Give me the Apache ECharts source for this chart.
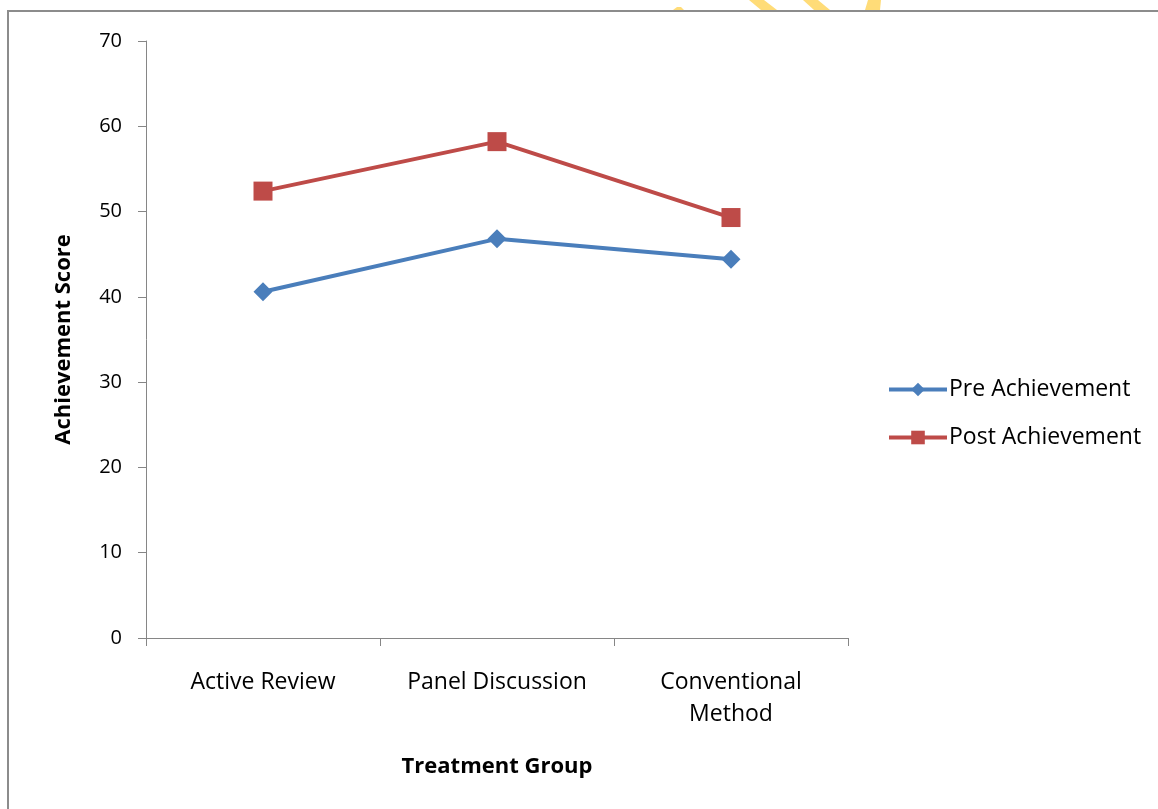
<!DOCTYPE html>
<html>
<head>
<meta charset="utf-8">
<style>
  html, body { margin: 0; padding: 0; background: #ffffff; }
  #chart { width: 1158px; height: 809px; }
</style>
<script src="https://cdn.jsdelivr.net/npm/echarts@6/dist/echarts.min.js"></script>
</head>
<body>
<div id="chart"></div>
<script>
// Mean achievement scores per treatment group
const categories = ['Active Review', 'Panel Discussion', 'Conventional\nMethod'];
const preAchievement = [40.6, 46.8, 44.4];
const postAchievement = [52.4, 58.2, 49.3];
const seriesNames = ['Pre Achievement', 'Post Achievement'];
const yTicks = { min: 0, max: 70, interval: 10 };

const FONT = '"Open Sans", Lato, sans-serif';
const AXIS_GRAY = '#868686';
const BLUE = '#4a7ebb';
const RED = '#be4b48';

const chart = echarts.init(document.getElementById('chart'), null, { renderer: 'canvas' });

chart.setOption({
  backgroundColor: '#ffffff',
  animation: false,
  textStyle: { fontFamily: FONT },
  grid: { left: 146, top: 41, width: 702, height: 597, containLabel: false },
  legend: {
    orient: 'vertical',
    left: 887,
    top: 378,
    padding: 0,
    itemWidth: 58,
    itemHeight: 17,
    itemGap: 25,
    textStyle: { fontFamily: FONT, fontSize: 23, color: '#000', padding: [0, 0, 0, -3] },
    lineStyle: { width: 4 },
    data: seriesNames
  },
  xAxis: {
    type: 'category',
    data: categories,
    boundaryGap: true,
    name: 'Treatment Group',
    nameLocation: 'middle',
    nameGap: 118,
    nameTextStyle: { fontFamily: FONT, fontSize: 22, fontWeight: 'bold', color: '#000' },
    axisLine: { lineStyle: { color: AXIS_GRAY, width: 1 } },
    axisTick: { show: true, length: 8, alignWithLabel: false, lineStyle: { color: AXIS_GRAY } },
    axisLabel: { fontFamily: FONT, fontSize: 23, color: '#000', margin: 28, lineHeight: 32, interval: 0 },
    splitLine: { show: false }
  },
  yAxis: {
    type: 'value',
    min: yTicks.min,
    max: yTicks.max,
    interval: yTicks.interval,
    name: 'Achievement Score',
    nameLocation: 'middle',
    nameGap: 71,
    nameRotate: 90,
    nameTextStyle: { fontFamily: FONT, fontSize: 22, fontWeight: 'bold', color: '#000' },
    axisLine: { show: true, lineStyle: { color: AXIS_GRAY, width: 1 } },
    axisTick: { show: true, length: 8, lineStyle: { color: AXIS_GRAY } },
    axisLabel: { fontFamily: FONT, fontSize: 20, color: '#000', margin: 24 },
    splitLine: { show: false }
  },
  series: [
    {
      name: seriesNames[0],
      type: 'line',
      data: preAchievement,
      symbol: 'diamond',
      symbolSize: 19,
      lineStyle: { color: BLUE, width: 4 },
      itemStyle: { color: BLUE },
      z: 3
    },
    {
      name: seriesNames[1],
      type: 'line',
      data: postAchievement,
      symbol: 'rect',
      symbolSize: 19,
      lineStyle: { color: RED, width: 4 },
      itemStyle: { color: RED },
      z: 3
    }
  ],
  graphic: [
    // yellow strokes peeking above the frame
    { type: 'polygon', silent: true, shape: { points: [[749, 0], [764, 0], [777, 10], [761, 10]] }, style: { fill: '#ffdc78' } },
    { type: 'polygon', silent: true, shape: { points: [[803, 0], [818, 0], [830, 10], [814, 10]] }, style: { fill: '#ffdc78' } },
    { type: 'polygon', silent: true, shape: { points: [[868, 0], [881, 0], [880, 10], [865, 10]] }, style: { fill: '#ffdc78' } },
    { type: 'polygon', silent: true, shape: { points: [[673, 10], [677, 7], [681, 7], [684, 10]] }, style: { fill: '#ffdc78' } },
    // chart frame
    { type: 'rect', silent: true, shape: { x: 8, y: 11, width: 1300, height: 900 }, style: { fill: null, stroke: '#8c8c8c', lineWidth: 2 } }
  ]
});
</script>
</body>
</html>
